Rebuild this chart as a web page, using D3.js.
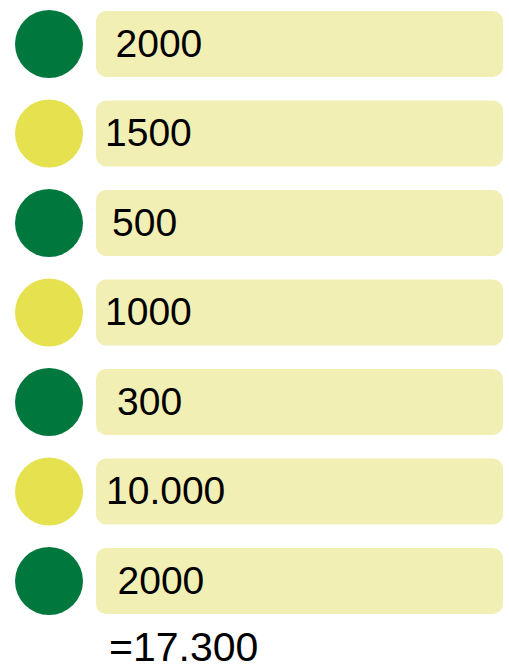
<!DOCTYPE html>
<html>
<head>
<meta charset="utf-8">
<script src="https://cdn.jsdelivr.net/npm/d3@7"></script>
<style>
  html, body { margin: 0; padding: 0; background: #fff; }
  svg { display: block; }
</style>
</head>
<body>
<div id="chart"></div>
<script>
// Values per row, the label shown for each, and which dot colour it gets
var values = [2000, 1500, 500, 1000, 300, 10000, 2000]
var labels = ['2000', '1500', '500', '1000', '300', '10.000', '2000']
var kinds = ['green', 'yellow', 'green', 'yellow', 'green', 'yellow', 'green']
var totalLabel = '=17.300'

// labels are not aligned in the original, each one sits a bit differently
var labelIndent = [19.5, 9, 16, 9, 21, 10, 21.5]

var width = 509
var height = 668
var fontSize = 39

var colour = d3.scaleOrdinal()
  .domain(['green', 'yellow'])
  .range(['#00773c', '#e5e14f'])

var y = d3.scalePoint()
  .domain(d3.range(values.length))
  .range([44, 581])

var svg = d3.select('#chart').append('svg')
  .attr('width', width)
  .attr('height', height)

var rows = svg.selectAll('g.row')
  .data(values)
  .enter()
  .append('g')
  .attr('class', 'row')
  .attr('transform', function (d, i) { return 'translate(0,' + y(i) + ')' })

rows.append('circle')
  .attr('cx', 49)
  .attr('cy', 0)
  .attr('r', 34)
  .attr('fill', function (d, i) { return colour(kinds[i]) })

rows.append('rect')
  .attr('x', 96)
  .attr('y', -33)
  .attr('width', 407)
  .attr('height', 66)
  .attr('rx', 10)
  .attr('fill', '#f2efb5')

rows.append('text')
  .attr('x', function (d, i) { return 96 + labelIndent[i] })
  .attr('y', 12.5)
  .attr('font-family', 'Liberation Sans, Arial, sans-serif')
  .attr('font-size', fontSize)
  .attr('fill', '#000')
  .text(function (d, i) { return labels[i] })

// total underneath, a touch bigger than the row labels
svg.append('text')
  .attr('x', 109)
  .attr('y', 661)
  .attr('font-family', 'Liberation Sans, Arial, sans-serif')
  .attr('font-size', 41)
  .attr('fill', '#000')
  .text(totalLabel)
</script>
</body>
</html>
